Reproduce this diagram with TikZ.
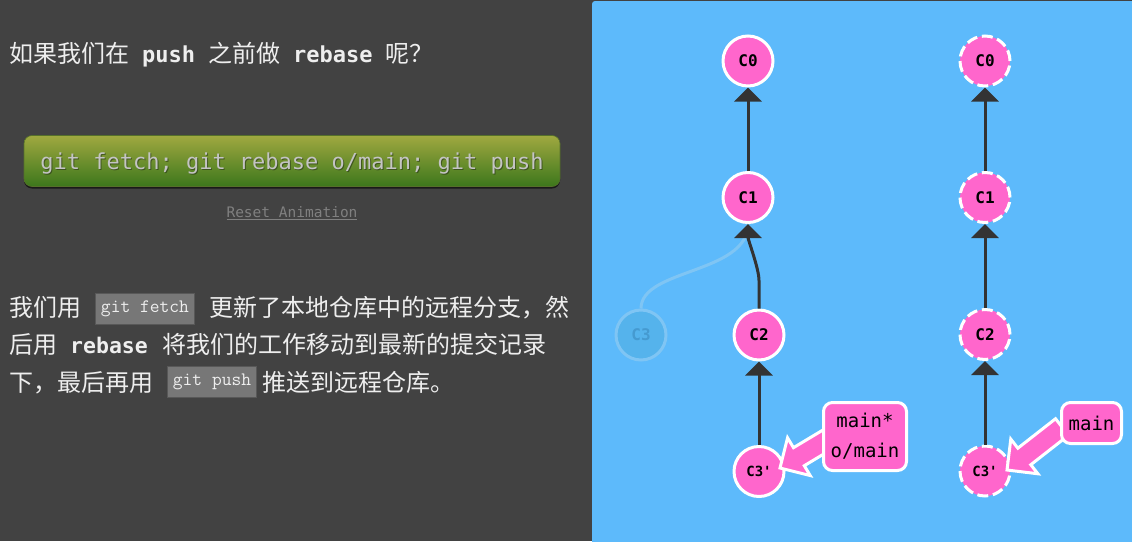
\documentclass[tikz,border=0pt]{standalone}
\usepackage{fontspec}
\setmainfont{Noto Sans CJK SC}
\newfontfamily\gitmono{DejaVu Sans Mono}
\usetikzlibrary{arrows.meta,calc,shadows}

\definecolor{panelgray}{HTML}{424242}
\definecolor{stageblue}{HTML}{5DBAFB}
\definecolor{commitpink}{HTML}{FF66CC}
\definecolor{edgegray}{HTML}{333333}
\definecolor{ghostfill}{HTML}{55B3EC}
\definecolor{ghostline}{HTML}{7FC5F4}
\definecolor{ghosttext}{HTML}{459AD0}
\definecolor{btntop}{HTML}{A0A840}
\definecolor{btnbottom}{HTML}{3C771C}
\definecolor{btnedge}{HTML}{55702A}
\definecolor{btntext}{HTML}{C4C4C4}
\definecolor{btnshade}{HTML}{2F3F1A}
\definecolor{resetgray}{HTML}{808080}
\definecolor{codebg}{HTML}{777777}
\definecolor{codeline}{HTML}{585858}
\definecolor{papertext}{HTML}{EEEEEE}

\tikzset{
  commit/.style={circle, draw=white, line width=3pt, fill=commitpink, minimum size=50pt, inner sep=0pt,
    font=\gitmono\bfseries\fontsize{16}{16}\selectfont},
  remotecommit/.style={commit, dash pattern=on 11pt off 4.7pt},
  ghostcommit/.style={commit, draw=ghostline, fill=ghostfill, text=ghosttext},
  commitedge/.style={edgegray, line width=3pt, -{Triangle[width=27pt,length=14pt]}},
  ghostedge/.style={ghostline, line width=3pt},
  branchlbl/.style={rounded corners=9pt, draw=white, line width=3pt, fill=commitpink, align=center,
    font=\gitmono\fontsize{19}{30}\selectfont, inner sep=0pt},
  ptrshape/.style={draw=white, line width=3pt, fill=commitpink, line join=miter},
  cjktext/.style={anchor=base west, text=papertext, font=\fontsize{24}{24}\selectfont, inner sep=0pt},
  monotext/.style={anchor=base west, text=papertext, font=\gitmono\bfseries\fontsize{21.5}{24}\selectfont, inner sep=0pt},
  codebox/.style={draw=codeline, line width=1pt, fill=codebg, text=papertext,
    font=\ttfamily\fontsize{19}{19}\selectfont, inner sep=0pt},
  gitbutton/.style={rounded corners=8pt, minimum width=536pt, minimum height=51pt,
    top color=btntop, bottom color=btnbottom, draw=btnedge, line width=.6pt,
    drop shadow={shadow xshift=0pt, shadow yshift=-2pt, fill=black, opacity=.6}},
  btnlabel/.style={text=btntext, font=\gitmono\fontsize{22}{22}\selectfont, inner sep=0pt},
}

% fat branch pointer: #1 tail, #2 tip
\newcommand{\branchptr}[2]{%
  \coordinate (ptrneck) at ($(#2)!22pt!(#1)$);
  \draw[ptrshape] ($(#1)!10.5pt!-90:(#2)$) -- ($(ptrneck)!10.5pt!90:(#1)$)
    -- ($(ptrneck)!22pt!90:(#1)$) -- (#2) -- ($(ptrneck)!22pt!-90:(#1)$)
    -- ($(ptrneck)!10.5pt!-90:(#1)$) -- ($(#1)!10.5pt!90:(#2)$) -- cycle;
}

\begin{document}
\begin{tikzpicture}[x=1pt, y=-1pt]
\useasboundingbox (0,0) rectangle (1132,541);
\fill[panelgray] (0,0) rectangle (1132,541);
\fill[stageblue, rounded corners=3pt] (592,1) rectangle (1140,550);

% left column: text
\node[cjktext] (title) at (9,62) {如果我们在\hspace{13pt}{\gitmono\bfseries\fontsize{22}{22}\selectfont push}\hspace{13pt}之前做\hspace{13pt}{\gitmono\bfseries\fontsize{22}{22}\selectfont rebase}\hspace{13pt}呢？};

\node[gitbutton] (cmdbtn) at (292,161) {};
\node[btnlabel, text=btnshade, opacity=.7] (cmdshade) at ($(cmdbtn.center)+(1,4)$) {git fetch; git rebase o/main; git push};
\node[btnlabel] (cmdtext) at ($(cmdbtn.center)+(0,2.5)$) {git fetch; git rebase o/main; git push};
\node[text=resetgray, font=\gitmono\fontsize{14.5}{14.5}\selectfont, inner sep=0pt] (reset) at (292,213) {\underline{Reset Animation}};

\node[cjktext] (p1a) at (9,316.5) {我们用};
\node[codebox, minimum width=99pt, minimum height=31pt] (fetchcode) at (145,309) {git fetch};
\node[cjktext] (p1b) at (209,316.5) {更新了本地仓库中的远程分支，然};
\node[cjktext] (p2a) at (9,353.5) {后用};
\node[monotext] (p2b) at (70,353.5) {rebase};
\node[cjktext] (p2c) at (162,353.5) {将我们的工作移动到最新的提交记录};
\node[cjktext] (p3a) at (9,391) {下，最后再用};
\node[codebox, minimum width=89pt, minimum height=31pt] (pushcode) at (212,382) {git push};
\node[cjktext] (p3b) at (262,391) {推送到远程仓库。};

% local tree
\node[ghostcommit] (c3g) at (641,335) {C3};
\node[commit] (c0l) at (748,61) {C0};
\node[commit] (c1l) at (748,197.5) {C1};
\node[commit] (c2l) at (759,335) {C2};
\node[commit, font=\gitmono\bfseries\fontsize{14}{14}\selectfont] (c3l) at (759,471.5) {C3'};
\draw[ghostedge] (c3g.north) .. controls +(0,-40) and +(0,50) .. (c1l.south);
\draw[commitedge] (c1l) -- (c0l);
\draw[commitedge] (c2l.north) -- ++(0,-28) .. controls +(0,-12) and +(0,16) .. (c1l.south);
\draw[commitedge] (c3l) -- (c2l);

% remote tree
\node[remotecommit] (c0r) at (985,61) {C0};
\node[remotecommit] (c1r) at (985,197.5) {C1};
\node[remotecommit] (c2r) at (985,334.5) {C2};
\node[remotecommit, font=\gitmono\bfseries\fontsize{14}{14}\selectfont] (c3r) at (985,471) {C3'};
\draw[commitedge] (c1r) -- (c0r);
\draw[commitedge] (c2r) -- (c1r);
\draw[commitedge] (c3r) -- (c2r);

% branch labels
\coordinate (lblLpos) at (865,436.5);
\coordinate (lblRpos) at (1091.5,423);
\coordinate (ptrLtail) at (830,438);
\coordinate (ptrLtip) at ($(c3l)+(21,-3.5)$);
\coordinate (ptrRtail) at (1062,427);
\coordinate (ptrRtip) at ($(c3r)+(22,-1)$);
\branchptr{ptrLtail}{ptrLtip}
\branchptr{ptrRtail}{ptrRtip}
\node[branchlbl, minimum width=83pt, minimum height=68pt] (lblL) at (lblLpos) {main*\\o/main};
\node[branchlbl, minimum width=60pt, minimum height=41pt] (lblR) at (lblRpos) {main};
\end{tikzpicture}
\end{document}
